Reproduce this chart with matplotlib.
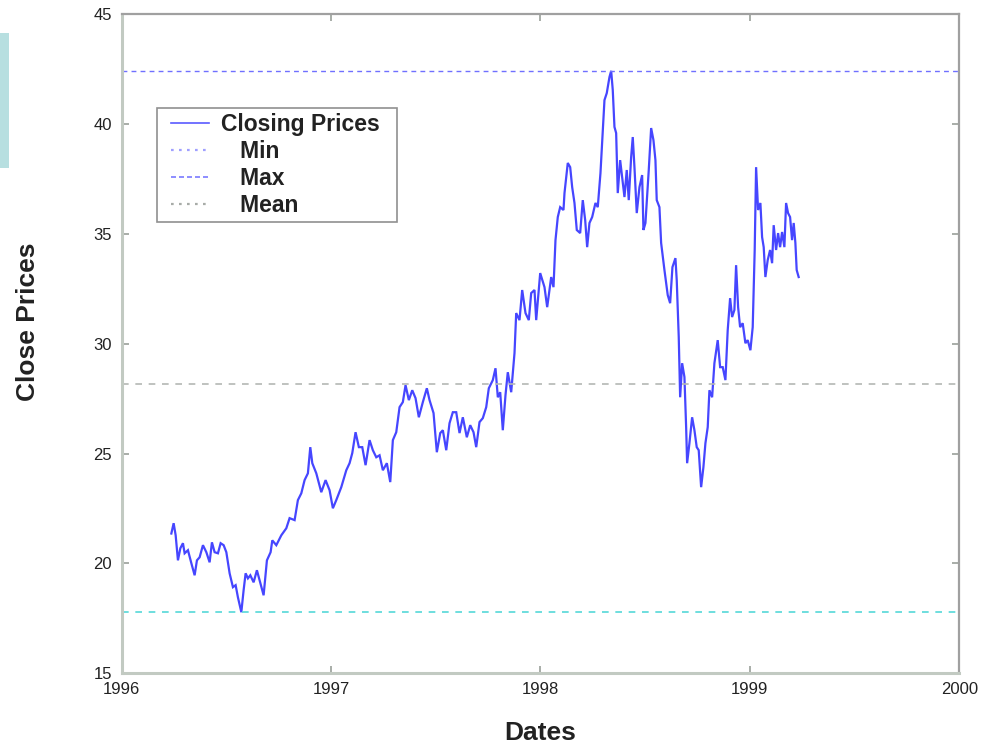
import matplotlib
matplotlib.use("Agg")
import matplotlib.pyplot as plt
from matplotlib.lines import Line2D
from matplotlib.patches import Rectangle
from matplotlib.legend_handler import HandlerLine2D

# Daily closing prices (decimal-year dates)
dates = [
    1996.2372, 1996.2482, 1996.2578, 1996.2687, 1996.2802, 1996.2926, 1996.3007, 1996.3165, 1996.3327, 1996.3484,
    1996.3594, 1996.3723, 1996.3881, 1996.4043, 1996.4200, 1996.4310, 1996.4439, 1996.4597, 1996.4726, 1996.4869,
    1996.4998, 1996.5155, 1996.5313, 1996.5442, 1996.5551, 1996.5714, 1996.5823, 1996.5919, 1996.6029, 1996.6143,
    1996.6301, 1996.6458, 1996.6587, 1996.6778, 1996.6936, 1996.7112, 1996.7193, 1996.7384, 1996.7623, 1996.7862,
    1996.8019, 1996.8258, 1996.8415, 1996.8578, 1996.8735, 1996.8893, 1996.9007, 1996.9103, 1996.9294, 1996.9532,
    1996.9737, 1996.9928,
    1997.0086, 1997.0248, 1997.0487, 1997.0726, 1997.0883, 1997.1012, 1997.1169, 1997.1327, 1997.1489, 1997.1647,
    1997.1838, 1997.1995, 1997.2158, 1997.2315, 1997.2473, 1997.2663, 1997.2826, 1997.2950, 1997.3112, 1997.3270,
    1997.3427, 1997.3556, 1997.3714, 1997.3876, 1997.4033, 1997.4191, 1997.4382, 1997.4573, 1997.4702, 1997.4893,
    1997.5050, 1997.5212, 1997.5337, 1997.5499, 1997.5656, 1997.5814, 1997.5976, 1997.6134, 1997.6291, 1997.6482,
    1997.6644, 1997.6802, 1997.6931, 1997.7088, 1997.7246, 1997.7408, 1997.7532, 1997.7723, 1997.7852, 1997.7962,
    1997.8076, 1997.8200, 1997.8329, 1997.8439, 1997.8601,
    1997.8759, 1997.8840, 1997.8998, 1997.9126, 1997.9284, 1997.9442, 1997.9556, 1997.9714, 1997.9795, 1997.9986,
    1998.0191, 1998.0320, 1998.0511, 1998.0621, 1998.0716, 1998.0826, 1998.0940, 1998.1098, 1998.1146, 1998.1303,
    1998.1418, 1998.1513, 1998.1623, 1998.1733, 1998.1895, 1998.2019, 1998.2134, 1998.2229, 1998.2339, 1998.2468,
    1998.2625, 1998.2735, 1998.2864, 1998.2974, 1998.3055, 1998.3165, 1998.3294, 1998.3375, 1998.3451, 1998.3532,
    1998.3613, 1998.3690, 1998.3804, 1998.3900, 1998.4010, 1998.4119, 1998.4215, 1998.4329, 1998.4406, 1998.4487,
    1998.4597, 1998.4726, 1998.4854, 1998.4916, 1998.5012, 1998.5170, 1998.5284, 1998.5394, 1998.5489, 1998.5551,
    1998.5680,
    1998.5761, 1998.5919, 1998.6076, 1998.6191, 1998.6301, 1998.6444, 1998.6506, 1998.6602, 1998.6669, 1998.6764,
    1998.6874, 1998.6955, 1998.7002, 1998.7112, 1998.7241, 1998.7351, 1998.7461, 1998.7556, 1998.7671, 1998.7780,
    1998.7876, 1998.7986, 1998.8067, 1998.8196, 1998.8305, 1998.8463, 1998.8578, 1998.8702, 1998.8831, 1998.8940,
    1998.9055, 1998.9150, 1998.9260, 1998.9341, 1998.9437, 1998.9532, 1998.9656, 1998.9785, 1998.9895,
    1999.0024, 1999.0134, 1999.0181, 1999.0229, 1999.0296, 1999.0391, 1999.0501, 1999.0582, 1999.0659, 1999.0740,
    1999.0850, 1999.0964, 1999.1060, 1999.1136, 1999.1251, 1999.1346, 1999.1442, 1999.1537, 1999.1647, 1999.1728,
    1999.1823, 1999.1919, 1999.2014, 1999.2091, 1999.2172, 1999.2234, 1999.2329,
]
prices = [
    21.36, 21.83, 21.28, 20.14, 20.69, 20.92, 20.46, 20.60, 20.01, 19.46,
    20.14, 20.28, 20.83, 20.51, 20.05, 20.96, 20.51, 20.46, 20.92, 20.83,
    20.51, 19.55, 18.92, 19.01, 18.46, 17.78, 18.78, 19.55, 19.32, 19.46,
    19.14, 19.69, 19.23, 18.55, 20.14, 20.51, 21.05, 20.83, 21.28, 21.60,
    22.06, 21.97, 22.88, 23.19, 23.79, 24.10, 25.29, 24.56, 24.10, 23.24,
    23.79, 23.33,
    22.51, 22.88, 23.47, 24.24, 24.56, 25.02, 25.97, 25.29, 25.29, 24.47,
    25.61, 25.15, 24.83, 24.92, 24.24, 24.56, 23.70, 25.61, 25.97, 27.11,
    27.34, 28.11, 27.43, 27.88, 27.52, 26.65, 27.34, 27.97, 27.43, 26.84,
    25.06, 25.93, 26.06, 25.15, 26.38, 26.88, 26.88, 25.93, 26.65, 25.74,
    26.29, 25.97, 25.29, 26.43, 26.61, 27.11, 27.97, 28.34, 28.88, 27.56,
    27.79, 26.06, 27.66, 28.70, 27.79,
    29.57, 31.39, 31.07, 32.44, 31.39, 31.07, 32.30, 32.44, 31.07, 33.21,
    32.57, 31.66, 33.03, 32.57, 34.71, 35.76, 36.21, 36.08, 36.85, 38.22,
    38.03, 37.12, 36.40, 35.17, 35.03, 36.53, 35.62, 34.39, 35.49, 35.76,
    36.40, 36.21, 37.76, 39.72, 41.08, 41.40, 42.13, 42.41, 41.54, 39.86,
    39.58, 36.85, 38.35, 37.58, 36.67, 37.90, 36.53, 38.49, 39.40, 38.03,
    35.94, 37.12, 37.67, 35.17, 35.49, 37.90, 39.81, 39.26, 38.35, 36.53,
    36.21,
    34.58, 33.35, 32.21, 31.84, 33.48, 33.89, 32.89, 30.30, 27.56, 29.11,
    28.48, 26.20, 24.56, 25.47, 26.65, 26.06, 25.29, 25.15, 23.47, 24.38,
    25.47, 26.20, 27.88, 27.56, 29.11, 30.16, 28.93, 28.93, 28.34, 30.61,
    32.07, 31.21, 31.53, 33.57, 31.66, 30.75, 30.93, 30.02, 30.16,
    29.70, 30.75, 32.44, 34.26, 38.03, 36.08, 36.40, 34.85, 34.39, 33.03,
    33.80, 34.26, 33.66, 35.39, 34.26, 35.03, 34.39, 35.08, 34.39, 36.40,
    35.94, 35.76, 34.71, 35.49, 34.58, 33.35, 33.03,
]
mean_close = 28.16

x_ticks = [1996, 1997, 1998, 1999, 2000]
y_ticks = [15, 20, 25, 30, 35, 40, 45]
legend_labels = ["Closing Prices  ", "   Min", "   Max", "   Mean"]

min_close = min(prices)
max_close = max(prices)

plt.rcParams["font.family"] = ["Liberation Sans", "DejaVu Sans"]

fig = plt.figure(figsize=(9.9, 7.43), dpi=100)
fig.patches.append(Rectangle((0, 0.774), 0.0091, 0.182, transform=fig.transFigure,
                             facecolor="#b7dfe0", edgecolor="none", zorder=0))

ax = fig.add_axes([0.1229, 0.0938, 0.8461, 0.8874])

ax.plot(dates, prices, color="#4646ff", lw=1.6, solid_joinstyle="miter")
ax.axhline(max_close, color="#7070ff", lw=1.0, dashes=(3.5, 3))
ax.axhline(min_close, color="#55d8d8", lw=1.2, dashes=(4, 4))
ax.axhline(mean_close, color="#b4b8b4", lw=1.2, dashes=(4, 4))

ax.set_xlim(x_ticks[0], x_ticks[-1])
ax.set_ylim(y_ticks[0], y_ticks[-1])
ax.set_xticks(x_ticks)
ax.set_yticks(y_ticks)
ax.tick_params(direction="in", length=5, width=1.2, color="#9aa09a",
               top=True, right=True, labelsize=12, labelcolor="#222222")
ax.tick_params(axis="y", pad=7)
ax.tick_params(axis="x", pad=6)

for side in ("left", "bottom"):
    ax.spines[side].set_color("#c2cac2")
    ax.spines[side].set_linewidth(2.2)
for side in ("top", "right"):
    ax.spines[side].set_color("#a0a0a0")
    ax.spines[side].set_linewidth(1.6)

ax.set_xlabel("Dates", fontsize=19, fontweight="bold", color="#222222")
ax.set_ylabel("Close Prices", fontsize=19, fontweight="bold", color="#222222")
ax.xaxis.set_label_coords(0.5, -0.072)
ax.yaxis.set_label_coords(-0.0974, 0.533)

handles = [
    Line2D([], [], color="#5a5aff", lw=1.2),
    Line2D([], [], color="#a0a0ff", lw=1.6, dashes=(1.2, 2.4)),
    Line2D([], [], color="#7a7aff", lw=1.2, dashes=(3, 1.8)),
    Line2D([], [], color="#a8aca8", lw=1.6, dashes=(1.2, 2.4)),
]
leg = ax.legend(handles, legend_labels, loc="upper left",
                bbox_to_anchor=(157 / 990, 1 - 108 / 743), bbox_transform=fig.transFigure,
                borderaxespad=0, fancybox=False, framealpha=1, edgecolor="#909090",
                prop={"size": 16.5, "weight": "bold"}, handlelength=2.05, handletextpad=0.52,
                labelspacing=0.18, borderpad=0.22,
                handler_map={Line2D: HandlerLine2D(xpad=0.4)})
leg.get_frame().set_linewidth(1.2)
for t in leg.get_texts():
    t.set_color("#222222")

fig.savefig("out.png", dpi=100)
